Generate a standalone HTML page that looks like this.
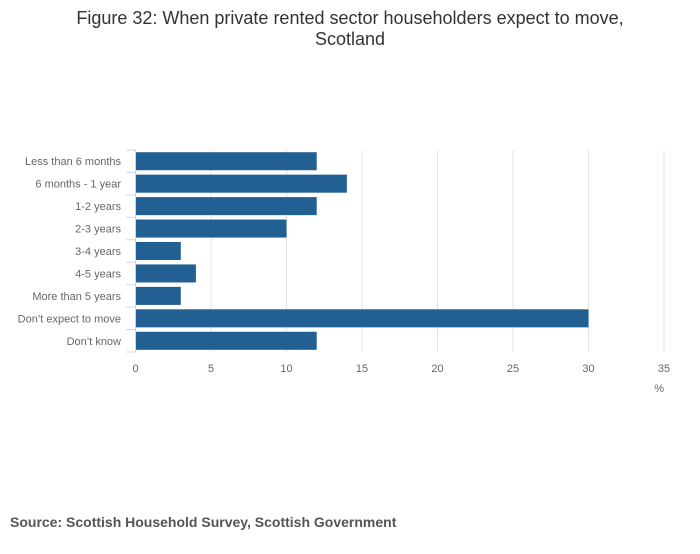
<!DOCTYPE html>
<html><head><meta charset="utf-8"><style>
body{margin:0;background:#fff;font-family:"Liberation Sans","DejaVu Sans",sans-serif}
svg text{font-family:"Liberation Sans","DejaVu Sans",sans-serif}
</style></head><body>
<svg id="c" width="700" height="549" xmlns="http://www.w3.org/2000/svg">
<text x="350" y="24" text-anchor="middle" font-size="18" fill="#333">Figure 32: When private rented sector householders expect to move,</text>
<text x="350" y="45" text-anchor="middle" font-size="18" fill="#333">Scotland</text>
<text x="10" y="527" font-size="14" font-weight="bold" fill="#555">Source: Scottish Household Survey, Scottish Government</text>
<text x="664" y="392" text-anchor="end" font-size="11" fill="#666">%</text>
<g id="grid"></g><g id="bars"></g><g id="axes"></g>
</svg>
<script>
const categories=["Less than 6 months","6 months - 1 year","1-2 years","2-3 years","3-4 years","4-5 years","More than 5 years","Don\u2019t expect to move","Don\u2019t know"];
const values=[12,14,12,10,3,4,3,30,12];
const ticks=[0,5,10,15,20,25,30,35];
const NS="http://www.w3.org/2000/svg";
const x0=135.5,x1=664,xmax=35,plotTop=150,plotBottom=352;
const band=(plotBottom-plotTop)/categories.length;
const xs=v=>x0+(x1-x0)*v/xmax;
function mk(t,a,p){const e=document.createElementNS(NS,t);for(const k in a)e.setAttribute(k,a[k]);p.appendChild(e);return e;}
const g=document.getElementById('grid'),b=document.getElementById('bars'),ax=document.getElementById('axes');
ticks.forEach(t=>{
 if(t>0){const l=mk('line',{x1:xs(t),x2:xs(t),y1:plotTop,y2:plotBottom,stroke:'#e3e3e3','stroke-width':1},g);
 
 }
 const tx=mk('text',{x:xs(t),y:372,'text-anchor':'middle','font-size':11,fill:'#666'},ax);
 tx.textContent=t;
 
 
});
const al=mk('line',{x1:x0,x2:x0,y1:plotTop,y2:plotBottom,stroke:'#ccd6eb','stroke-width':1},ax);


categories.forEach((c,i)=>{
 const y=plotTop+band*i;
 const r=mk('rect',{x:x0+0.5,y:y+2.2,width:xs(values[i])-x0-0.5,height:band-4.4,fill:'#225f93'},b);
 
 
 const tk=mk('line',{x1:126,x2:x0,y1:y,y2:y,stroke:'#ccd6eb'},ax);
 
 
 const t=mk('text',{x:121,y:y+band/2+4,'text-anchor':'end','font-size':11,fill:'#666'},ax);
 t.textContent=c;
 
 
});
const tk=mk('line',{x1:126,x2:x0,y1:plotBottom,y2:plotBottom,stroke:'#ccd6eb'},ax);


</script>
</body></html>
